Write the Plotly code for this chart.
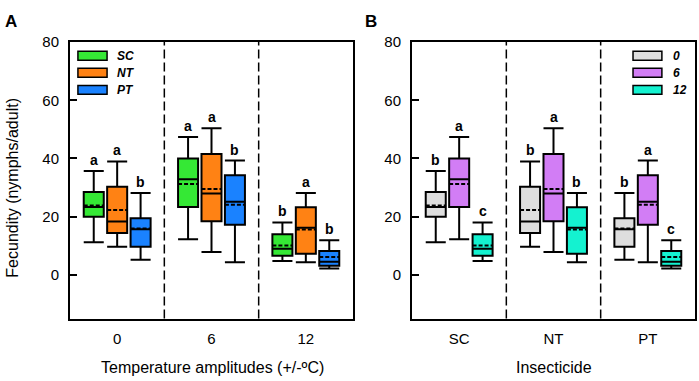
import plotly.graph_objects as go

# ---------------- data ----------------
temps = ["0", "6", "12"]
insecticides = ["SC", "NT", "PT"]

# box statistics per insecticide, ordered by temperature amplitude 0, 6, 12
SC_lf = [11.2, 12.2, 4.8]
SC_q1 = [20.0, 23.3, 6.6]
SC_med = [23.3, 32.9, 9.0]
SC_q3 = [28.5, 40.0, 14.0]
SC_uf = [35.7, 47.4, 18.0]
SC_mean = [23.8, 31.2, 10.1]

NT_lf = [9.7, 7.9, 4.3]
NT_q1 = [14.4, 18.4, 7.3]
NT_med = [18.3, 28.0, 16.2]
NT_q3 = [30.3, 41.5, 23.2]
NT_uf = [39.0, 50.4, 28.1]
NT_mean = [22.3, 29.5, 15.6]

PT_lf = [5.2, 4.3, 2.2]
PT_q1 = [9.7, 17.2, 3.1]
PT_med = [15.7, 25.1, 4.5]
PT_q3 = [19.5, 34.2, 8.2]
PT_uf = [28.1, 39.3, 11.9]
PT_mean = [15.9, 24.1, 6.1]

# significance letters
letters_A = {"SC": ["a", "a", "b"], "NT": ["a", "a", "a"], "PT": ["b", "b", "b"]}
letters_B = {"0": ["b", "b", "b"], "6": ["a", "a", "a"], "12": ["c", "b", "c"]}

yticks = [0, 20, 40, 60, 80]

# ---------------- styles ----------------
col_ins = {"SC": "#35E835", "NT": "#FF8214", "PT": "#1A82FF"}
col_tmp = {"0": "#DEDEDE", "6": "#D27DF5", "12": "#14F2D0"}
FONT = "Arial, Liberation Sans, sans-serif"
BOXGAP = 0.255
GROUPGAP = 0.145

stats = {
    "SC": dict(lf=SC_lf, q1=SC_q1, med=SC_med, q3=SC_q3, uf=SC_uf, mean=SC_mean),
    "NT": dict(lf=NT_lf, q1=NT_q1, med=NT_med, q3=NT_q3, uf=NT_uf, mean=NT_mean),
    "PT": dict(lf=PT_lf, q1=PT_q1, med=PT_med, q3=PT_q3, uf=PT_uf, mean=PT_mean),
}

fig = go.Figure()
annotations = []
shapes = []
slot = (1 - BOXGAP) / 3

# Panel A: x = temperature, series = insecticide
for i, ins in enumerate(insecticides):
    s = stats[ins]
    fig.add_trace(go.Box(
        x=temps, q1=s["q1"], median=s["med"], q3=s["q3"],
        lowerfence=s["lf"], upperfence=s["uf"], mean=s["mean"],
        boxmean=True, name=ins, fillcolor=col_ins[ins],
        line=dict(color="black", width=2), whiskerwidth=1,
        boxpoints=False, xaxis="x", yaxis="y", showlegend=False,
        offsetgroup=ins,
    ))
    for j in range(3):
        annotations.append(dict(
            x=j + (i - 1) * slot, y=s["uf"][j], xref="x", yref="y",
            text="<b>%s</b>" % letters_A[ins][j], showarrow=False,
            xanchor="center", yanchor="bottom", yshift=1,
            font=dict(size=14, family=FONT, color="black")))

# Panel B: x = insecticide, series = temperature
for t_i, t in enumerate(temps):
    fig.add_trace(go.Box(
        x=insecticides,
        q1=[stats[k]["q1"][t_i] for k in insecticides],
        median=[stats[k]["med"][t_i] for k in insecticides],
        q3=[stats[k]["q3"][t_i] for k in insecticides],
        lowerfence=[stats[k]["lf"][t_i] for k in insecticides],
        upperfence=[stats[k]["uf"][t_i] for k in insecticides],
        mean=[stats[k]["mean"][t_i] for k in insecticides],
        boxmean=True, name=t, fillcolor=col_tmp[t],
        line=dict(color="black", width=2), whiskerwidth=1,
        boxpoints=False, xaxis="x2", yaxis="y2", showlegend=False,
        offsetgroup="t" + t,
    ))
    for j, k in enumerate(insecticides):
        annotations.append(dict(
            x=j + (t_i - 1) * slot, y=stats[k]["uf"][t_i], xref="x2", yref="y2",
            text="<b>%s</b>" % letters_B[t][j], showarrow=False,
            xanchor="center", yanchor="bottom", yshift=1,
            font=dict(size=14, family=FONT, color="black")))

# dashed category dividers
for ax in ["x", "x2"]:
    ydom = "y domain" if ax == "x" else "y2 domain"
    for xv in [0.5, 1.5]:
        shapes.append(dict(type="line", xref=ax, yref=ydom, x0=xv, x1=xv, y0=0, y1=1,
                           line=dict(color="black", width=1.5, dash="9px,4px")))

# manual legends
def add_legend(xref, yref, x0, x1, xt, labels, colors):
    ys = [0.9505, 0.889, 0.827]
    for lab, yv in zip(labels, ys):
        shapes.append(dict(type="rect", xref=xref, yref=yref, x0=x0, x1=x1,
                           y0=yv - 0.016, y1=yv + 0.016, fillcolor=colors[lab],
                           line=dict(color="black", width=1.5)))
        annotations.append(dict(x=xt, y=yv, xref=xref, yref=yref, xanchor="left",
                                yanchor="middle", showarrow=False,
                                text="<b><i>%s</i></b>" % lab,
                                font=dict(size=12, family=FONT, color="black")))

add_legend("x domain", "y domain", 0.028, 0.131, 0.158, insecticides, col_ins)
add_legend("x2 domain", "y2 domain", 0.781, 0.883, 0.915, temps, col_tmp)

# titles and panel labels
def paper_text(xpx, ypx, text, size, angle=0):
    return dict(x=xpx / 699, y=(381 - ypx) / 381, xref="paper", yref="paper",
                xanchor="center", yanchor="middle", showarrow=False, textangle=angle,
                text=text, font=dict(size=size, family=FONT, color="black"))

annotations += [
    paper_text(212, 367, "Temperature amplitudes (+/-ºC)", 16),
    paper_text(553.5, 367, "Insecticide", 16),
    paper_text(13, 183, "Fecundity (nymphs/adult)", 16, -90),
    paper_text(11, 13, "<b>A</b>", 17),
    paper_text(371, 13, "<b>B</b>", 17),
]

xcommon = dict(type="category", range=[-0.5, 2.5], showline=True, linecolor="black",
               linewidth=2, mirror=True, ticks="", showgrid=False, zeroline=False,
               tickfont=dict(size=15, family=FONT, color="black"), ticklabelstandoff=5)
ycommon = dict(range=[-15, 80], tickvals=yticks, showline=True, linecolor="black",
               linewidth=2, mirror=True, ticks="inside", ticklen=7, tickwidth=1.5,
               tickcolor="black", showgrid=False, zeroline=False,
               tickfont=dict(size=15, family=FONT, color="black"), ticklabelstandoff=6,
               domain=[0.168, 0.911])

fig.update_layout(
    width=699, height=381,
    margin=dict(l=0, r=0, t=0, b=0),
    paper_bgcolor="white", plot_bgcolor="white",
    boxmode="group", boxgap=BOXGAP, boxgroupgap=GROUPGAP,
    xaxis=dict(xcommon, domain=[70 / 699, 353 / 699], anchor="y"),
    yaxis=dict(ycommon, anchor="x"),
    xaxis2=dict(xcommon, domain=[412 / 699, 695 / 699], anchor="y2"),
    yaxis2=dict(ycommon, anchor="x2"),
    annotations=annotations, shapes=shapes,
    font=dict(family=FONT, color="black"),
    hovermode=False,
)

fig.write_html("out.html", config={"displayModeBar": False},
               post_script="document.body.style.margin='0';document.body.style.overflow='hidden';")
